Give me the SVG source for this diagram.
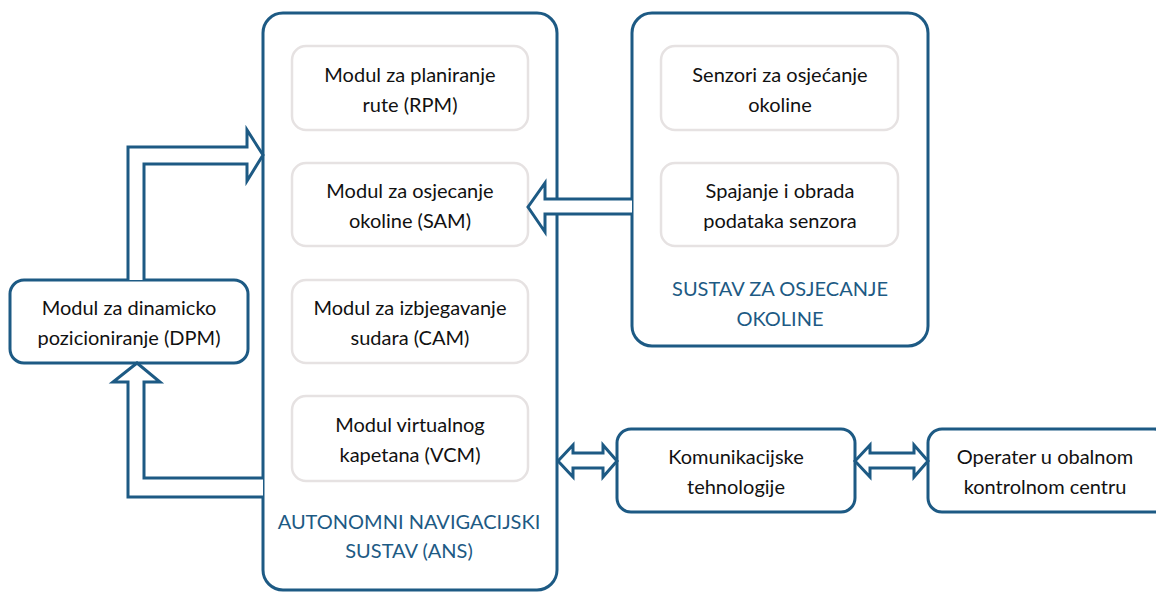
<svg xmlns="http://www.w3.org/2000/svg" width="1156" height="594" viewBox="0 0 1156 594">
<style>
.outer{fill:#fff;stroke:#1d5a84;stroke-width:3}
.inner{fill:#fff;stroke:#e6e2e2;stroke-width:2.5}
.t{font-family:Lato,"Noto Sans",sans-serif;font-size:20px;fill:#111;text-anchor:middle}
.h{font-family:Lato,"Noto Sans",sans-serif;font-size:20px;fill:#1d5a84;text-anchor:middle}
.arr{fill:#fff;stroke:#1d5a84;stroke-width:3;stroke-linejoin:miter}
</style>
<rect width="1156" height="594" fill="#fff"/>
<g id="ans">
<rect class="outer" x="263" y="13" width="294" height="577" rx="20"/>
<text class="h" x="409" y="529">AUTONOMNI NAVIGACIJSKI</text>
<text class="h" x="409" y="558">SUSTAV (ANS)</text>
</g>
<g id="rpm"><rect class="inner" x="292" y="46" width="236" height="84" rx="14"/>
<text class="t" x="410" y="82">Modul za planiranje</text><text class="t" x="410" y="112">rute (RPM)</text></g>
<g id="sam"><rect class="inner" x="292" y="163" width="236" height="83" rx="14"/>
<text class="t" x="410" y="198">Modul za osjecanje</text><text class="t" x="410" y="228">okoline (SAM)</text></g>
<g id="cam"><rect class="inner" x="292" y="280" width="236" height="83" rx="14"/>
<text class="t" x="410" y="315">Modul za izbjegavanje</text><text class="t" x="410" y="345">sudara (CAM)</text></g>
<g id="vcm"><rect class="inner" x="292" y="396" width="236" height="85" rx="14"/>
<text class="t" x="410" y="432">Modul virtualnog</text><text class="t" x="410" y="462">kapetana (VCM)</text></g>
<g id="soo">
<rect class="outer" x="632" y="13" width="296" height="333" rx="20"/>
<text class="h" x="780" y="296">SUSTAV ZA OSJECANJE</text>
<text class="h" x="780" y="326">OKOLINE</text>
</g>
<g id="senzori"><rect class="inner" x="661" y="46" width="237" height="84" rx="14"/>
<text class="t" x="780" y="82">Senzori za osjećanje</text><text class="t" x="780" y="112">okoline</text></g>
<g id="spajanje"><rect class="inner" x="661" y="163" width="237" height="83" rx="14"/>
<text class="t" x="780" y="198">Spajanje i obrada</text><text class="t" x="780" y="228">podataka senzora</text></g>
<g id="dpm"><rect class="outer" x="10" y="280" width="238" height="83" rx="14"/>
<text class="t" x="129" y="315">Modul za dinamicko</text><text class="t" x="129" y="345">pozicioniranje (DPM)</text></g>
<g id="kom"><rect class="outer" x="617" y="429" width="238" height="83" rx="14"/>
<text class="t" x="736" y="464">Komunikacijske</text><text class="t" x="736" y="494">tehnologije</text></g>
<g id="op"><rect class="outer" x="928" y="429" width="240" height="83" rx="14"/>
<text class="t" x="1045" y="464">Operater u obalnom</text><text class="t" x="1045" y="494">kontrolnom centru</text></g>
<g id="connectors">
<path class="arr" d="M128,280 V147 H247 V130 L263,155 L247,181 V164 H144 V280"/>
<path class="arr" d="M263,497 H128 V382 H113 L137,363 L160,382 H144 V478 H263"/>
<path class="arr" d="M632,199 H545 V183 L528,207 L545,232 V214 H632"/>
<path class="arr" d="M558,461 L573,445 V453 H603 V445 L617,461 L603,477 V468 H573 V477 Z"/>
<path class="arr" d="M855,461 L870,445 V453 H914 V445 L928,461 L914,477 V468 H870 V477 Z"/>
</g>
</svg>
